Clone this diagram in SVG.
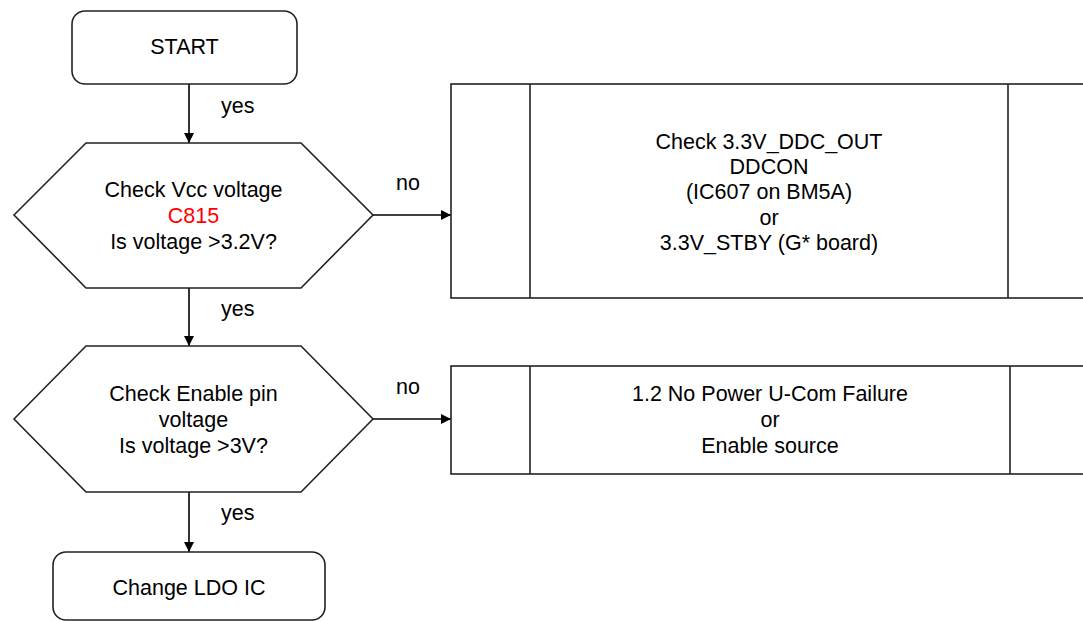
<svg xmlns="http://www.w3.org/2000/svg" width="1083" height="621" viewBox="0 0 1083 621">
<defs>
<marker id="ah" viewBox="0 0 10 10" refX="10" refY="5" markerWidth="10" markerHeight="10" markerUnits="userSpaceOnUse" orient="auto">
<path d="M0,0 L10,5 L0,10 z" fill="#000"/>
</marker>
<style>
.shape{fill:#fff;stroke:#222;stroke-width:1.6}
.box{fill:#fff;stroke:#222;stroke-width:1.6}
.t{font-family:"Liberation Sans",Arial,sans-serif;font-size:21.5px;fill:#000;text-anchor:middle}
.lbl{font-family:"Liberation Sans",Arial,sans-serif;font-size:21.5px;fill:#000;text-anchor:start}
.red{fill:#ff0000}
.conn{stroke:#000;stroke-width:1.6;fill:none;marker-end:url(#ah)}
</style>
</defs>
<rect width="1083" height="621" fill="#fff"/>
<g id="connectors">
<line class="conn" x1="189" y1="84" x2="189" y2="143"/>
<line class="conn" x1="373" y1="215" x2="451" y2="215"/>
<line class="conn" x1="189" y1="288" x2="189" y2="346"/>
<line class="conn" x1="373" y1="419" x2="451" y2="419"/>
<line class="conn" x1="189" y1="492" x2="189" y2="552"/>
<text class="lbl" x="221" y="113">yes</text>
<text class="lbl" x="396" y="190">no</text>
<text class="lbl" x="221" y="316">yes</text>
<text class="lbl" x="396" y="394">no</text>
<text class="lbl" x="221" y="520">yes</text>
</g>
<g id="start">
<rect class="shape" x="72" y="11" width="225" height="73" rx="13"/>
<text class="t" x="184.5" y="54">START</text>
</g>
<g id="check-vcc">
<polygon class="shape" points="14,215 86,143 301,143 373,215 301,288 86,288"/>
<text class="t" x="193.5" y="197">Check Vcc voltage</text>
<text class="t red" x="193.5" y="223">C815</text>
<text class="t" x="193.5" y="249">Is voltage &gt;3.2V?</text>
</g>
<g id="check-ddc">
<rect class="box" x="451" y="84" width="650" height="214"/>
<line class="box" x1="530" y1="84" x2="530" y2="298"/>
<line class="box" x1="1008" y1="84" x2="1008" y2="298"/>
<text class="t" x="769" y="149">Check 3.3V_DDC_OUT</text>
<text class="t" x="769" y="174">DDCON</text>
<text class="t" x="769" y="199">(IC607 on BM5A)</text>
<text class="t" x="769" y="225">or</text>
<text class="t" x="769" y="250">3.3V_STBY (G* board)</text>
</g>
<g id="check-enable">
<polygon class="shape" points="14,419 86,346 301,346 373,419 301,492 86,492"/>
<text class="t" x="193.5" y="401">Check Enable pin</text>
<text class="t" x="193.5" y="427">voltage</text>
<text class="t" x="193.5" y="453">Is voltage &gt;3V?</text>
</g>
<g id="ucom-failure">
<rect class="box" x="451" y="366" width="650" height="108"/>
<line class="box" x1="530" y1="366" x2="530" y2="474"/>
<line class="box" x1="1010" y1="366" x2="1010" y2="474"/>
<text class="t" x="770" y="401">1.2 No Power U-Com Failure</text>
<text class="t" x="770" y="427">or</text>
<text class="t" x="770" y="453">Enable source</text>
</g>
<g id="change-ldo">
<rect class="shape" x="53" y="552" width="272" height="68" rx="13"/>
<text class="t" x="189" y="595">Change LDO IC</text>
</g>
</svg>
